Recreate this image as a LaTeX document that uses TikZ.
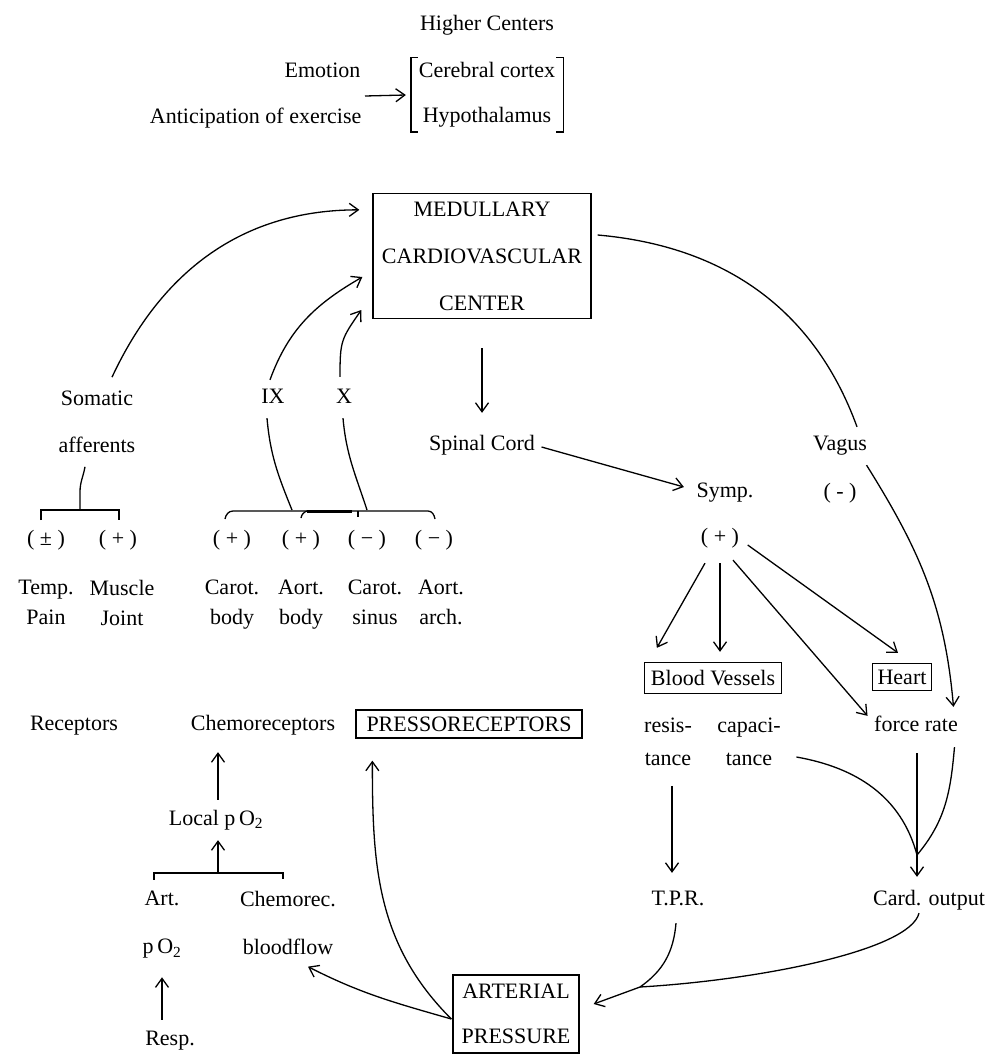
\documentclass[tikz,border=0pt]{standalone}
\usepackage{fontspec}
\setmainfont{Liberation Serif}
\usetikzlibrary{arrows.meta, positioning}

\begin{document}
\begin{tikzpicture} [x = 1pt, y = 1pt, node distance = 48pt, on grid, line width = 1.3pt,
	font = \fontsize{22}{26}\selectfont,
	lbl/.style = {inner sep = 0pt, text height = 15pt, text depth = 4pt},
	pair/.style = {inner sep = 0pt, align = center, font = \fontsize{22}{#1}\selectfont,
		execute at begin node = \vphantom{bdy}, execute at end node = \vphantom{bdy}},
	box/.style = {draw, inner sep = 0pt, align = center},
	arr/.style = {-{Straight Barb[length = 9pt, width = 13pt]}}]
			% Page frame: 988 x 1054
			\useasboundingbox (0,0) rectangle (988,-1054);
			% Higher centers
			\node (higher) [lbl] at (487,-25) {Higher Centers};
			\node (centers) [pair = 45, minimum width = 151pt, minimum height = 73pt, below = 70pt of higher] {Cerebral cortex\\Hypothalamus};
			\draw ([xshift = 7pt]centers.north west) -- (centers.north west) -- (centers.south west) -- ++(7,0);
			\draw ([xshift = -7pt]centers.north east) -- (centers.north east) -- (centers.south east) -- ++(-7,0);
			\node (emotion) [lbl, anchor = east] at (361,-72) {Emotion};
			\node (anticip) [lbl, anchor = east] at (362,-118) {Anticipation of exercise};
			\coordinate (urge) at (365,-96);
			\draw [arr] (urge) -- ([xshift = -5pt]centers.west);
			% Medullary center and efferent side
			\node (med) [box, font = \fontsize{22}{47}\selectfont, minimum width = 218pt, minimum height = 125pt] at (482,-256) {MEDULLARY\\CARDIOVASCULAR\\CENTER};
			\node (spinal) [lbl, below = 189pt of med] {Spinal Cord};
			\node (symp) [lbl] at (725,-492) {Symp.};
			\node (vagus) [lbl] at (840,-445) {Vagus};
			\node (minus) [lbl, below = of vagus] {( - )};
			\node (plus) [lbl] at (720,-538) {( + )};
			\node (vessels) [box, minimum width = 137pt, minimum height = 31pt] at (713,-678) {Blood Vessels};
			\node (heart) [box, minimum width = 59pt, minimum height = 27pt] at (902,-677) {Heart};
			\node (resis) [pair = 33] at (668,-744) {resis-\\tance};
			\node (capac) [pair = 33, right = 81pt of resis] {capaci-\\tance};
			\node (force) [lbl] at (916,-726) {force rate};
			\node (tpr) [lbl] at (678,-900) {T.P.R.};
			\node (cardout) [lbl] at (929,-900) {Card. output};
			\node (art) [box, font = \fontsize{22}{45}\selectfont, minimum width = 126pt, minimum height = 78pt] at (516,-1014) {ARTERIAL\\PRESSURE};
			% Receptors
			\node (recep) [lbl] at (74,-725) {Receptors};
			\node (chemo) [lbl] at (263,-725) {Chemoreceptors};
			\node (press) [box, minimum width = 226pt, minimum height = 28pt] at (469,-724) {PRESSORECEPTORS};
			\node (local) [lbl] at (216,-820) {Local p\,O\textsubscript{2}};
			\node (artpo) [pair = 48] at (162,-925) {Art.\\p\,O\textsubscript{2}};
			\node (chemorec) [pair = 48, right = 126pt of artpo] {Chemorec.\\bloodflow};
			\node (resp) [lbl, below right = 115pt and 8pt of artpo] {Resp.};
			% Afferents
			\node (somatic) [pair = 47] at (97,-424) {Somatic\\afferents};
			\node (nine) [lbl] at (273,-398) {IX};
			\node (ten) [lbl] at (344,-398) {X};
			\node (tempsign) [lbl] at (46,-540) {( ± )};
			\node (musclesign) [lbl] at (118,-540) {( + )};
			\node (temp) [pair = 30, below = 65pt of tempsign] {Temp.\\Pain};
			\node (muscle) [pair = 30, below right = 65pt and 4pt of musclesign] {Muscle\\Joint};
			\node (cbsign) [lbl] at (232,-540) {( + )};
			\node (absign) [lbl] at (301,-540) {( + )};
			\node (cssign) [lbl] at (367,-540) {( − )};
			\node (aasign) [lbl] at (434,-540) {( − )};
			\node (carb) [pair = 30, below = 65pt of cbsign] {Carot.\\body};
			\node (aorb) [pair = 30, below = 65pt of absign] {Aort.\\body};
			\node (cars) [pair = 30, below right = 65pt and 8pt of cssign] {Carot.\\sinus};
			\node (aora) [pair = 30, below right = 65pt and 7pt of aasign] {Aort.\\arch.};
			% Afferent connections
			\draw [arr] ([xshift = 15pt, yshift = 13pt]somatic.north) to [out = 65, in = 180] ([xshift = -13pt, yshift = -17pt]med.north west);
			\draw [arr] ([xshift = -3pt, yshift = 8pt]nine.north) to [out = 70, in = 210] ([xshift = -10pt, yshift = -21pt]med.west);
			\draw [arr] ([xshift = -4pt, yshift = 11pt]ten.north) to [out = 90, in = 235, looseness = 1.3] ([xshift = -11pt, yshift = -54pt]med.west);
			\coordinate (ninefoot) at (292,-510);
			\coordinate (tenfoot) at (367,-510);
			\draw ([xshift = -6pt, yshift = -10pt]nine.south) to [out = -85, in = 112] (ninefoot);
			\draw ([xshift = -1pt, yshift = -10pt]ten.south) to [out = -85, in = 108] (tenfoot);
			\draw (225,-519) to [out = 80, in = 180] (233,-511) -- (428,-511) to [out = 0, in = 100] (435,-519);
			\draw [line width = 3pt] (307,-511) -- (352,-511);
			\draw (307,-511) to [out = 200, in = 80] (301,-518);
			\draw (358,-511) -- (358,-517);
			\draw ([xshift = -12pt, yshift = -9pt]somatic.south) to [out = -100, in = 90] (80,-492) -- (80,-510);
			\draw (41,-520) |- (119,-510) -- (119,-520);
			% Efferent connections
			\draw [arr, shorten <= 29pt, shorten >= 22pt] (med.south) -- (spinal.north);
			\draw [arr] ([xshift = 6pt, yshift = -2pt]spinal.east) -- ([xshift = -12pt, yshift = 5pt]symp.west);
			\draw ([xshift = 6pt, yshift = 21pt]med.east) to [out = -5, in = 110] ([xshift = 17pt, yshift = 8pt]vagus.north);
			\draw [arr] ([xshift = -1pt, yshift = -10pt]vagus.south east) to [out = -58, in = 95] ([xshift = -5pt, yshift = 9pt]force.north east);
			\draw [arr] ([xshift = -15pt, yshift = -15pt]plus.south) -- ([xshift = 13pt, yshift = 14pt]vessels.north west);
			\draw [arr] ([yshift = -15pt]plus.south) -- ([xshift = 7pt, yshift = 10pt]vessels.north);
			\draw [arr] ([xshift = 13pt, yshift = -12pt]plus.south) -- ([xshift = -6pt]force.north west);
			\draw [arr] ([xshift = 8pt, yshift = -7pt]plus.east) -- ([xshift = -4pt, yshift = 10pt]heart.north);
			% Outputs to arterial pressure
			\draw [arr, shorten <= 15pt, shorten >= 17pt] ([xshift = 4pt]resis.south) -- ([xshift = -6pt]tpr.north);
			\coordinate (join) at (917,-855);
			\draw [arr] ([xshift = 1pt, yshift = -17pt]force.south) -- ([xshift = -12pt, yshift = 13pt]cardout.north);
			\draw ([xshift = 15pt, yshift = -13pt]capac.east) to [out = -10, in = 105] (join);
			\draw ([xshift = -4pt, yshift = -11pt]force.south east) to [out = -95, in = 50] (join);
			\coordinate (merge) at (640,-987);
			\draw [arr] ([xshift = -2pt, yshift = -13pt]tpr.south) to [out = -95, in = 35] (merge) -- ([xshift = 14pt, yshift = 10pt]art.east);
			\draw ([xshift = -10pt, yshift = -3pt]cardout.south) .. controls +(-9,-37) and +(120,7) .. (merge);
			% Arterial pressure back to receptors
			\draw [arr] ([xshift = -1pt, yshift = -5pt]art.west) to [out = 164, in = -27] ([xshift = 20pt, yshift = -7pt]chemorec.south);
			\draw [arr] ([xshift = -1pt, yshift = -5pt]art.west) to [out = 135, in = -90] ([xshift = 17pt, yshift = -22pt]press.south west);
			\draw [arr, shorten <= 10pt, shorten >= 17pt] ([xshift = 2pt]local.north) -- ([xshift = -45pt]chemo.south);
			\coordinate (fork) at (218,-873);
			\draw ([xshift = -8pt, yshift = 11pt]artpo.north) |- (fork) -| ([xshift = -5pt, yshift = 11pt]chemorec.north);
			\draw [arr, shorten >= 10pt] (fork) -- ([xshift = 2pt]local.south);
			\draw [arr, shorten <= 10pt, shorten >= 18pt] ([xshift = -8pt]resp.north) -- (artpo.south);
		\end{tikzpicture}
\end{document}
